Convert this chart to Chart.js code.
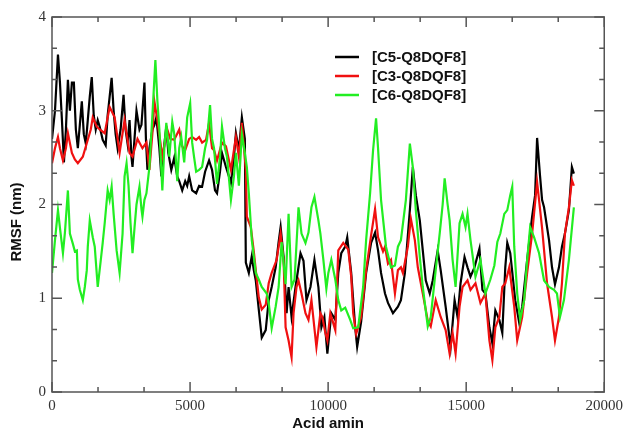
<!DOCTYPE html>
<html>
<head>
<meta charset="utf-8">
<script src="https://cdn.jsdelivr.net/npm/chart.js@4.4.1/dist/chart.umd.min.js"></script>
<style>
body { margin: 0; background: #fff; }
#wrap { width: 628px; height: 433px; }
</style>
</head>
<body>
<div id="wrap"><canvas id="rmsfChart" width="628" height="433"></canvas></div>
<script>
// [residue, RMSF]
var c5 = [[0,2.7],[108,3.0],[216,3.6],[288,3.3],[360,2.9],[432,2.45],[504,2.8],[576,3.33],[648,3.0],[720,3.3],
  [792,3.3],[864,2.8],[936,2.6],[1008,2.85],[1080,3.1],[1152,2.75],[1224,2.65],[1296,2.9],[1368,3.15],[1440,3.36],
  [1512,2.95],[1584,2.8],[1656,2.9],[1728,2.83],[1836,2.69],[1944,2.63],[2016,2.95],[2088,3.15],[2160,3.35],[2232,3.0],
  [2304,2.75],[2376,2.6],[2484,2.8],[2592,3.17],[2664,2.8],[2736,2.65],[2808,2.9],[2880,2.5],[2916,2.4],[2988,2.7],
  [3060,3.0],[3168,2.8],[3240,2.85],[3348,3.3],[3402,2.7],[3456,2.37],[3528,2.6],[3636,2.8],[3708,2.85],[3780,2.93],
  [3888,2.6],[3960,2.3],[4032,2.55],[4140,2.83],[4212,2.55],[4320,2.37],[4428,2.5],[4536,2.3],[4608,2.25],[4716,2.15],
  [4824,2.25],[4896,2.2],[4968,2.3],[5076,2.15],[5220,2.12],[5328,2.2],[5436,2.19],[5544,2.35],[5688,2.47],[5796,2.37],
  [5904,2.15],[5976,2.12],[6084,2.35],[6156,2.55],[6300,2.4],[6408,2.3],[6480,2.23],[6588,2.5],[6660,2.76],[6768,2.58],
  [6876,2.93],[6984,2.7],[7020,1.38],[7128,1.27],[7236,1.45],[7308,1.3],[7380,1.19],[7488,0.88],[7596,0.58],[7740,0.66],
  [7848,0.98],[7956,1.12],[8100,1.33],[8208,1.6],[8280,1.76],[8388,1.44],[8496,0.84],[8568,1.12],[8676,0.8],[8820,1.12],
  [9000,1.48],[9108,1.4],[9216,0.98],[9360,1.12],[9504,1.41],[9648,1.12],[9756,0.69],[9864,0.8],[9972,0.41],[10116,0.84],
  [10260,0.77],[10368,1.27],[10476,1.48],[10620,1.55],[10692,1.65],[10836,1.27],[10980,0.69],[11052,0.48],[11196,0.75],[11376,1.27],
  [11556,1.59],[11700,1.7],[11808,1.51],[11916,1.27],[12060,1.05],[12168,0.95],[12348,0.84],[12528,0.91],[12636,0.98],[12780,1.27],
  [12960,1.94],[13068,2.4],[13176,2.1],[13320,1.83],[13428,1.51],[13536,1.19],[13680,1.05],[13788,1.19],[13968,1.51],[14076,1.3],
  [14256,0.91],[14436,0.48],[14580,0.98],[14688,0.8],[14796,1.16],[14940,1.44],[15048,1.33],[15156,1.23],[15300,1.33],[15480,1.53],
  [15588,1.09],[15696,1.05],[15840,0.69],[15948,0.52],[16056,0.87],[16200,0.77],[16308,0.63],[16416,1.33],[16488,1.59],[16596,1.48],
  [16776,0.98],[16920,0.74],[17028,0.91],[17208,1.41],[17388,1.87],[17496,2.1],[17568,2.71],[17676,2.3],[17748,2.05],[17820,1.97],
  [18000,1.62],[18108,1.33],[18216,1.15],[18360,1.33],[18468,1.55],[18576,1.69],[18720,1.94],[18828,2.4],[18900,2.33]];

var c3 = [[0,2.44],[108,2.6],[216,2.72],[288,2.6],[396,2.47],[504,2.6],[576,2.76],[720,2.55],[828,2.48],[936,2.44],
  [1116,2.51],[1296,2.69],[1404,2.8],[1476,2.93],[1620,2.83],[1728,2.8],[1908,2.76],[2088,3.04],[2268,2.93],[2448,2.55],
  [2628,2.9],[2808,2.55],[2916,2.51],[3096,2.7],[3276,2.6],[3420,2.66],[3528,2.37],[3636,2.76],[3708,3.1],[3816,2.9],
  [3996,2.51],[4176,2.8],[4284,2.7],[4428,2.69],[4608,2.8],[4716,2.62],[4824,2.58],[4968,2.7],[5076,2.72],[5220,2.69],
  [5328,2.72],[5436,2.66],[5580,2.69],[5688,2.87],[5796,2.6],[5868,2.58],[5976,2.47],[6156,2.66],[6300,2.62],[6480,2.37],
  [6660,2.72],[6768,2.51],[6876,2.87],[7020,2.37],[7056,1.87],[7200,1.76],[7308,1.5],[7380,1.3],[7488,1.01],[7596,0.88],
  [7740,0.93],[7848,1.16],[7956,1.27],[8136,1.41],[8280,1.69],[8388,1.4],[8460,0.69],[8568,0.55],[8676,0.37],[8748,0.84],
  [8856,1.12],[8928,1.19],[9036,1.05],[9180,0.84],[9288,0.77],[9396,0.98],[9576,0.48],[9720,0.84],[9792,0.8],[9900,0.63],
  [9972,0.55],[10080,0.84],[10260,0.66],[10368,1.51],[10548,1.59],[10728,1.52],[10836,1.23],[10908,0.84],[11016,0.62],[11196,0.8],
  [11376,1.3],[11556,1.67],[11700,1.95],[11808,1.65],[11988,1.5],[12060,1.55],[12168,1.37],[12276,1.41],[12420,1.05],[12528,1.3],
  [12636,1.33],[12708,1.27],[12888,1.55],[12996,1.85],[13140,1.62],[13248,1.33],[13428,1.05],[13608,0.76],[13716,0.7],[13896,0.98],
  [14076,0.8],[14256,0.66],[14400,0.41],[14508,0.63],[14616,0.41],[14760,0.91],[14868,1.12],[15048,1.19],[15156,1.09],[15336,1.16],
  [15516,0.95],[15696,1.05],[15840,0.55],[15948,0.34],[16056,0.69],[16200,0.8],[16308,1.12],[16416,1.16],[16560,1.33],[16740,0.91],
  [16848,0.55],[17028,0.8],[17208,1.27],[17388,1.69],[17568,2.24],[17748,1.75],[17928,1.16],[18108,0.8],[18216,0.55],[18360,0.8],
  [18468,1.16],[18576,1.69],[18720,1.97],[18828,2.26],[18900,2.2]];

var c6 = [[0,1.27],[108,1.62],[216,1.94],[288,1.75],[396,1.48],[468,1.7],[576,2.15],[648,1.69],[756,1.58],[828,1.5],
  [900,1.51],[936,1.2],[1008,1.09],[1116,0.98],[1188,1.12],[1260,1.3],[1296,1.55],[1368,1.83],[1476,1.65],[1548,1.55],
  [1656,1.12],[1764,1.4],[1836,1.59],[1908,1.8],[2016,2.15],[2088,2.05],[2160,2.19],[2232,1.9],[2340,1.51],[2448,1.27],
  [2556,1.69],[2628,2.3],[2700,2.44],[2772,2.2],[2844,1.8],[2916,1.48],[2988,1.75],[3060,2.0],[3168,2.19],[3240,1.95],
  [3276,1.87],[3348,2.05],[3420,2.12],[3528,2.4],[3636,2.95],[3744,3.54],[3816,3.11],[3888,2.8],[3996,2.15],[4068,2.6],
  [4140,2.87],[4248,2.51],[4356,2.88],[4428,2.75],[4536,2.25],[4608,2.6],[4680,2.72],[4788,2.45],[4896,2.93],[5004,3.08],
  [5076,2.66],[5148,2.5],[5220,2.35],[5328,2.37],[5436,2.4],[5544,2.6],[5616,2.69],[5724,3.06],[5796,2.7],[5868,2.6],
  [5976,2.22],[6084,2.5],[6156,2.83],[6264,2.6],[6336,2.51],[6480,2.05],[6588,2.3],[6660,2.55],[6768,2.2],[6876,2.75],
  [6984,2.55],[7056,2.4],[7128,2.12],[7236,1.62],[7380,1.27],[7488,1.2],[7596,1.12],[7776,1.05],[7848,0.95],[7956,0.68],
  [8100,0.91],[8208,1.12],[8316,1.6],[8460,1.15],[8568,1.9],[8676,1.12],[8784,1.2],[8928,1.97],[9036,1.69],[9180,1.59],
  [9288,1.7],[9396,1.97],[9504,2.08],[9648,1.83],[9720,1.69],[9828,1.41],[9936,1.1],[10008,1.27],[10116,1.41],[10260,1.2],
  [10368,0.98],[10476,0.87],[10620,0.9],[10800,0.77],[10908,0.68],[11088,0.69],[11268,1.12],[11376,1.62],[11520,2.12],[11628,2.58],
  [11736,2.92],[11808,2.6],[11916,2.05],[12096,1.55],[12276,1.33],[12420,1.35],[12528,1.55],[12636,1.62],[12816,2.05],[12960,2.65],
  [13068,2.4],[13176,1.94],[13320,1.44],[13428,1.12],[13608,0.7],[13716,0.8],[13896,1.3],[14040,1.69],[14148,2.0],[14220,2.28],
  [14328,2.0],[14400,1.83],[14508,1.41],[14616,1.12],[14760,1.8],[14868,1.9],[14976,1.76],[15048,1.9],[15156,1.62],[15336,1.23],
  [15516,1.41],[15696,1.05],[15876,1.2],[16020,1.35],[16128,1.6],[16236,1.69],[16380,1.9],[16488,1.94],[16596,2.1],[16668,2.19],
  [16740,1.55],[16848,1.05],[16956,0.77],[17100,0.98],[17208,1.41],[17316,1.76],[17460,1.65],[17640,1.48],[17820,1.19],[18000,1.12],
  [18180,1.09],[18288,1.05],[18396,0.8],[18540,0.98],[18720,1.41],[18900,1.97]];

var xTicks = [0, 5000, 10000, 15000, 20000];
var yTicks = [0, 1, 2, 3, 4];
var seriesNames = ['[C5-Q8DQF8]', '[C3-Q8DQF8]', '[C6-Q8DQF8]'];
var seriesColors = ['#000000', '#f01010', '#22ee22'];

function points(pairs) {
  return pairs.map(function (p) { return { x: p[0], y: p[1] }; });
}

// frame, inward ticks, legend and axis titles
var framePlugin = {
  id: 'frame',
  afterDatasetsDraw: function (chart) {
    var ctx = chart.ctx, a = chart.chartArea;
    var xs = chart.scales.x, ys = chart.scales.y;
    ctx.save();
    ctx.strokeStyle = '#555';
    ctx.lineWidth = 1.5;
    ctx.strokeRect(a.left, a.top, a.right - a.left, a.bottom - a.top);
    ctx.beginPath();
    for (var k = 0; k <= 12; k++) {
      var len = (k % 3 === 0) ? 10 : 5;
      var px = xs.getPixelForValue(k * 5000 / 3);
      ctx.moveTo(px, a.bottom); ctx.lineTo(px, a.bottom - len);
      ctx.moveTo(px, a.top); ctx.lineTo(px, a.top + len);
      var py = ys.getPixelForValue(k / 3);
      ctx.moveTo(a.left, py); ctx.lineTo(a.left + len, py);
      ctx.moveTo(a.right, py); ctx.lineTo(a.right - len, py);
    }
    ctx.stroke();

    // legend
    ctx.font = 'bold 15px "Liberation Sans", Arial, sans-serif';
    ctx.textBaseline = 'middle';
    ctx.textAlign = 'left';
    chart.data.datasets.forEach(function (ds, j) {
      var ly = 57 + j * 19;
      ctx.strokeStyle = ds.borderColor;
      ctx.lineWidth = 2.5;
      ctx.beginPath();
      ctx.moveTo(335, ly); ctx.lineTo(359, ly);
      ctx.stroke();
      ctx.fillStyle = '#111';
      ctx.fillText(ds.label, 372, ly + 1);
    });

    // axis titles
    ctx.fillStyle = '#111';
    ctx.textAlign = 'center';
    ctx.fillText('Acid amin', (a.left + a.right) / 2, 424);
    ctx.translate(17, 222);
    ctx.rotate(-Math.PI / 2);
    ctx.fillText('RMSF (nm)', 0, 0);
    ctx.restore();
  }
};

var ctx = document.getElementById('rmsfChart');

var rmsfChart = new Chart(ctx, {
  type: 'line',
  data: {
    datasets: [
      { label: seriesNames[0], data: points(c5), borderColor: seriesColors[0], borderWidth: 2.2, order: 3 },
      { label: seriesNames[1], data: points(c3), borderColor: seriesColors[1], borderWidth: 2.2, order: 2 },
      { label: seriesNames[2], data: points(c6), borderColor: seriesColors[2], borderWidth: 2.2, order: 1 }
    ]
  },
  options: {
    responsive: false,
    animation: false,
    elements: { point: { radius: 0 }, line: { tension: 0 } },
    layout: { padding: { top: 17, right: 20, left: 0, bottom: 0 } },
    plugins: { legend: { display: false }, tooltip: { enabled: false } },
    scales: {
      x: {
        type: 'linear', min: 0, max: 20000,
        grid: { display: false, drawTicks: false },
        border: { display: false },
        afterFit: function (s) { s.height = 41; },
        afterBuildTicks: function (s) { s.ticks = xTicks.map(function (v) { return { value: v }; }); },
        ticks: {
          padding: 5, maxRotation: 0, autoSkip: false, color: '#333',
          callback: function (v) { return String(v); },
          font: { family: '"Liberation Serif", "Times New Roman", serif', size: 15 }
        }
      },
      y: {
        type: 'linear', min: 0, max: 4,
        grid: { display: false, drawTicks: false },
        border: { display: false },
        afterFit: function (s) { s.width = 52; },
        afterBuildTicks: function (s) { s.ticks = yTicks.map(function (v) { return { value: v }; }); },
        ticks: {
          padding: 6, color: '#333',
          callback: function (v) { return String(v); },
          font: { family: '"Liberation Serif", "Times New Roman", serif', size: 15 }
        }
      }
    }
  },
  plugins: [framePlugin]
});
</script>
</body>
</html>
